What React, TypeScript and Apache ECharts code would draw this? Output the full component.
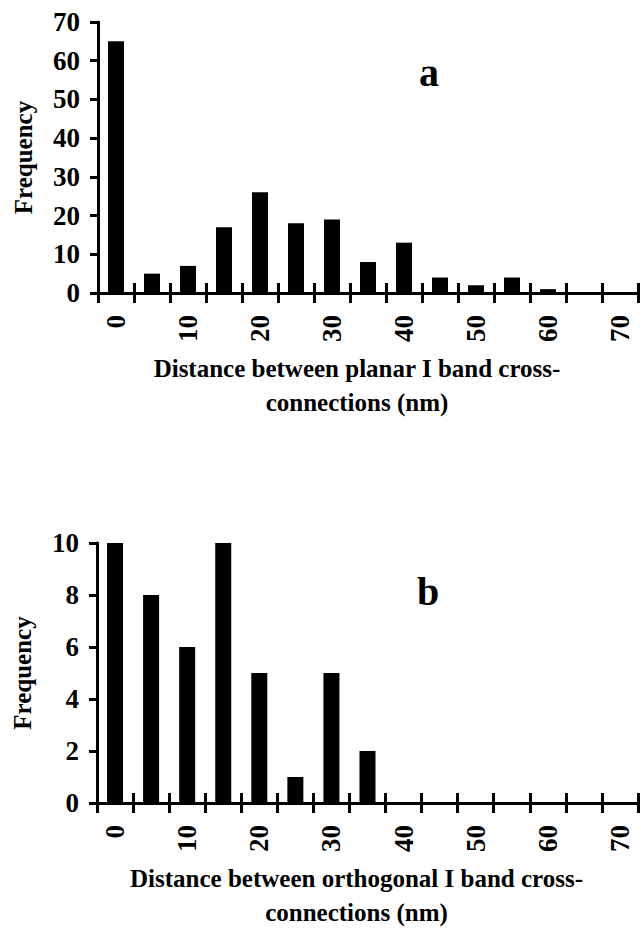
import React, { useEffect, useRef } from "react";
import * as echarts from "echarts";

const categories = ["0", "5", "10", "15", "20", "25", "30", "35", "40", "45", "50", "55", "60", "65", "70"];
const planarFreq = [65, 5, 7, 17, 26, 18, 19, 8, 13, 4, 2, 4, 1, 0, 0];
const orthoFreq = [10, 8, 6, 10, 5, 1, 5, 2, 0, 0, 0, 0, 0, 0, 0];
const titleA = "Distance between planar I band cross-\nconnections (nm)";
const titleB = "Distance between orthogonal I band cross-\nconnections (nm)";
const yTitle = "Frequency";

const FONT = "'Liberation Serif', 'Times New Roman', serif";

export default function App() {
  const ref = useRef<HTMLDivElement>(null);
  useEffect(() => {
    if (!ref.current) return;
    const chart = echarts.init(ref.current, null, { renderer: "svg" });
    const grids = [
      { left: 98, top: 22, width: 540, height: 271 },
      { left: 97, top: 543, width: 541, height: 270 },
    ];
    const mkX = (gi: number, name: string) => [
      {
        type: "category",
        gridIndex: gi,
        data: categories,
        position: "bottom",
        boundaryGap: true,
        axisLine: { show: true, lineStyle: { color: "#000", width: 3 } },
        axisTick: { show: true, interval: 0, length: 10, lineStyle: { color: "#000", width: 3 } },
        axisLabel: {
          interval: 1,
          rotate: 90,
          margin: 22,
          color: "#000",
          fontFamily: FONT,
          fontWeight: "bold",
          fontSize: 27,
        },
        name,
        nameLocation: "middle",
        nameGap: 58,
        nameTextStyle: {
          color: "#000",
          fontFamily: FONT,
          fontWeight: "bold",
          fontSize: 25,
          lineHeight: 34,
          padding: [0, 22, 0, 0],
        },
      },
      {
        type: "category",
        gridIndex: gi,
        data: categories,
        position: "bottom",
        boundaryGap: true,
        axisLine: { show: false },
        axisTick: { show: true, inside: true, interval: 0, length: 10, lineStyle: { color: "#000", width: 3 } },
        axisLabel: { show: false },
      },
    ];
    const mkY = (gi: number, max: number, interval: number) => ({
      type: "value",
      gridIndex: gi,
      min: 0,
      max,
      interval,
      splitLine: { show: false },
      axisLine: { show: true, lineStyle: { color: "#000", width: 3 } },
      axisTick: { show: true, length: 8, lineStyle: { color: "#000", width: 3 } },
      axisLabel: {
        margin: 18,
        color: "#000",
        fontFamily: FONT,
        fontWeight: "bold",
        fontSize: 27,
      },
      name: yTitle,
      nameLocation: "middle",
      nameGap: 62,
      nameTextStyle: {
        color: "#000",
        fontFamily: FONT,
        fontWeight: "bold",
        fontSize: 25,
      },
    });
    chart.setOption({
      animation: false,
      backgroundColor: "#fff",
      grid: grids,
      xAxis: [...mkX(0, titleA), ...mkX(1, titleB)],
      yAxis: [mkY(0, 70, 10), mkY(1, 10, 2)],
      series: [
        {
          type: "bar",
          xAxisIndex: 0,
          yAxisIndex: 0,
          data: planarFreq,
          barWidth: 16,
          itemStyle: { color: "#000" },
        },
        {
          type: "bar",
          xAxisIndex: 2,
          yAxisIndex: 1,
          data: orthoFreq,
          barWidth: 16,
          itemStyle: { color: "#000" },
        },
      ],
      graphic: [
        {
          type: "text",
          left: 419,
          top: 52,
          style: { text: "a", fill: "#000", font: `bold 40px ${FONT}` },
        },
        {
          type: "text",
          left: 417,
          top: 571,
          style: { text: "b", fill: "#000", font: `bold 40px ${FONT}` },
        },
      ],
    });
    return () => chart.dispose();
  }, []);
  return (
    <div
      ref={ref}
      style={{ position: "absolute", left: 0, top: 0, width: 641, height: 930 }}
    />
  );
}
